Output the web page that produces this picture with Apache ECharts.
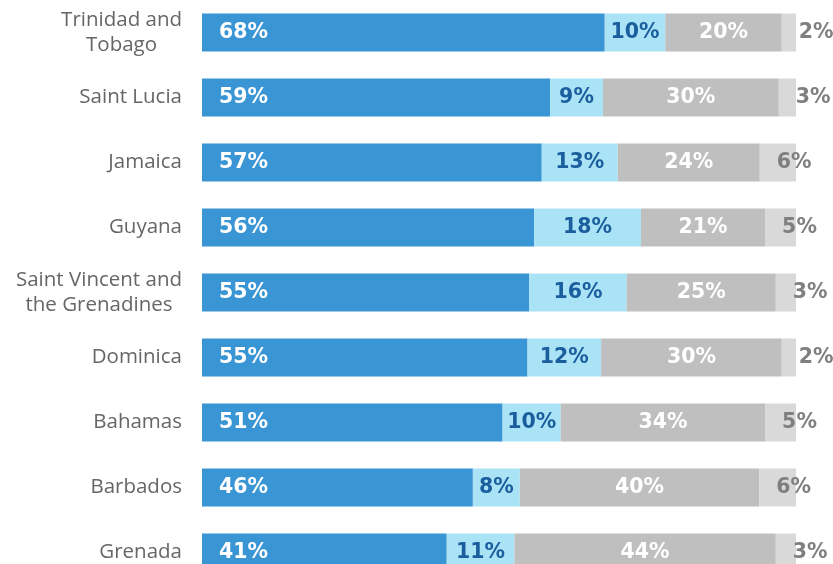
<!DOCTYPE html>
<html lang="en">
<head>
    <meta charset="UTF-8">
    <script src="https://cdn.jsdelivr.net/npm/echarts@6/dist/echarts.min.js"></script>
    <title>Caribbean shares</title>
</head>
<body>
<style>
    html, body, #main {
        width: 100%;
        height: 100%;
        margin: 0;
        background: #fff;
    }
</style>
<div id='main'></div>
<script>
    // countries, top to bottom
    var countries = ['Trinidad and\nTobago', 'Saint Lucia', 'Jamaica', 'Guyana',
        'Saint Vincent and\nthe Grenadines', 'Dominica', 'Bahamas', 'Barbados', 'Grenada'];
    // segment shares (%)
    var darkBlue  = [67.8, 58.6, 57.2, 55.9, 55.1, 54.8, 50.6, 45.6, 41.2];
    var lightBlue = [10.2,  8.9, 12.8, 18.0, 16.4, 12.4,  9.8,  7.9, 11.4];
    var gray      = [19.6, 29.6, 23.9, 20.9, 25.1, 30.4, 34.4, 40.3, 44.0];
    var lightGray = [ 2.4,  2.9,  6.1,  5.2,  3.4,  2.4,  5.2,  6.2,  3.4];

    var myChart = echarts.init(document.getElementById('main'));

    var pct = function (p) {
        return Math.round(p.value) + '%';
    };
    var labelFont = {
        fontFamily: 'DejaVu Sans',
        fontWeight: 'bold',
        fontSize: 20.5
    };

    var option = {
        animation: false,
        grid: {
            left: 202,
            right: 37,
            top: 0,
            height: 585,
            outerBoundsMode: 'none'
        },
        xAxis: {
            type: 'value',
            min: 0,
            max: 100,
            show: false
        },
        yAxis: {
            type: 'category',
            inverse: true,
            data: countries,
            axisLine: {show: false},
            axisTick: {show: false},
            axisLabel: {
                margin: 20,
                formatter: function (v) {
                    // centre each line of the two-line names
                    return v.split('\n').map(function (s) {
                        return '{c|' + s + '}';
                    }).join('\n');
                },
                rich: {
                    c: {
                        align: 'center',
                        fontFamily: 'Open Sans',
                        fontSize: 20.5,
                        color: '#666666',
                        lineHeight: 25
                    }
                }
            }
        },
        series: [
            {
                type: 'bar',
                stack: 'all',
                barWidth: 38,
                data: darkBlue,
                itemStyle: {color: '#3995d4'},
                label: Object.assign({
                    show: true,
                    position: 'insideLeft',
                    distance: 17,
                    color: '#ffffff',
                    formatter: pct
                }, labelFont)
            },
            {
                type: 'bar',
                stack: 'all',
                data: lightBlue,
                itemStyle: {color: '#abe3f6'},
                label: Object.assign({
                    show: true,
                    position: 'inside',
                    color: '#1b5e9e',
                    formatter: pct
                }, labelFont)
            },
            {
                type: 'bar',
                stack: 'all',
                data: gray,
                itemStyle: {color: '#bfbfbf'},
                label: Object.assign({
                    show: true,
                    position: 'inside',
                    color: '#ffffff',
                    formatter: pct
                }, labelFont)
            },
            {
                type: 'bar',
                stack: 'all',
                data: lightGray,
                itemStyle: {color: '#d9d9d9'},
                label: Object.assign({
                    show: true,
                    position: [17, '50%'],
                    align: 'left',
                    verticalAlign: 'middle',
                    color: '#7f7f7f',
                    formatter: pct
                }, labelFont)
            }
        ]
    };

    myChart.setOption(option, true);
    window.onresize = myChart.resize;
</script>
</body>
</html>
